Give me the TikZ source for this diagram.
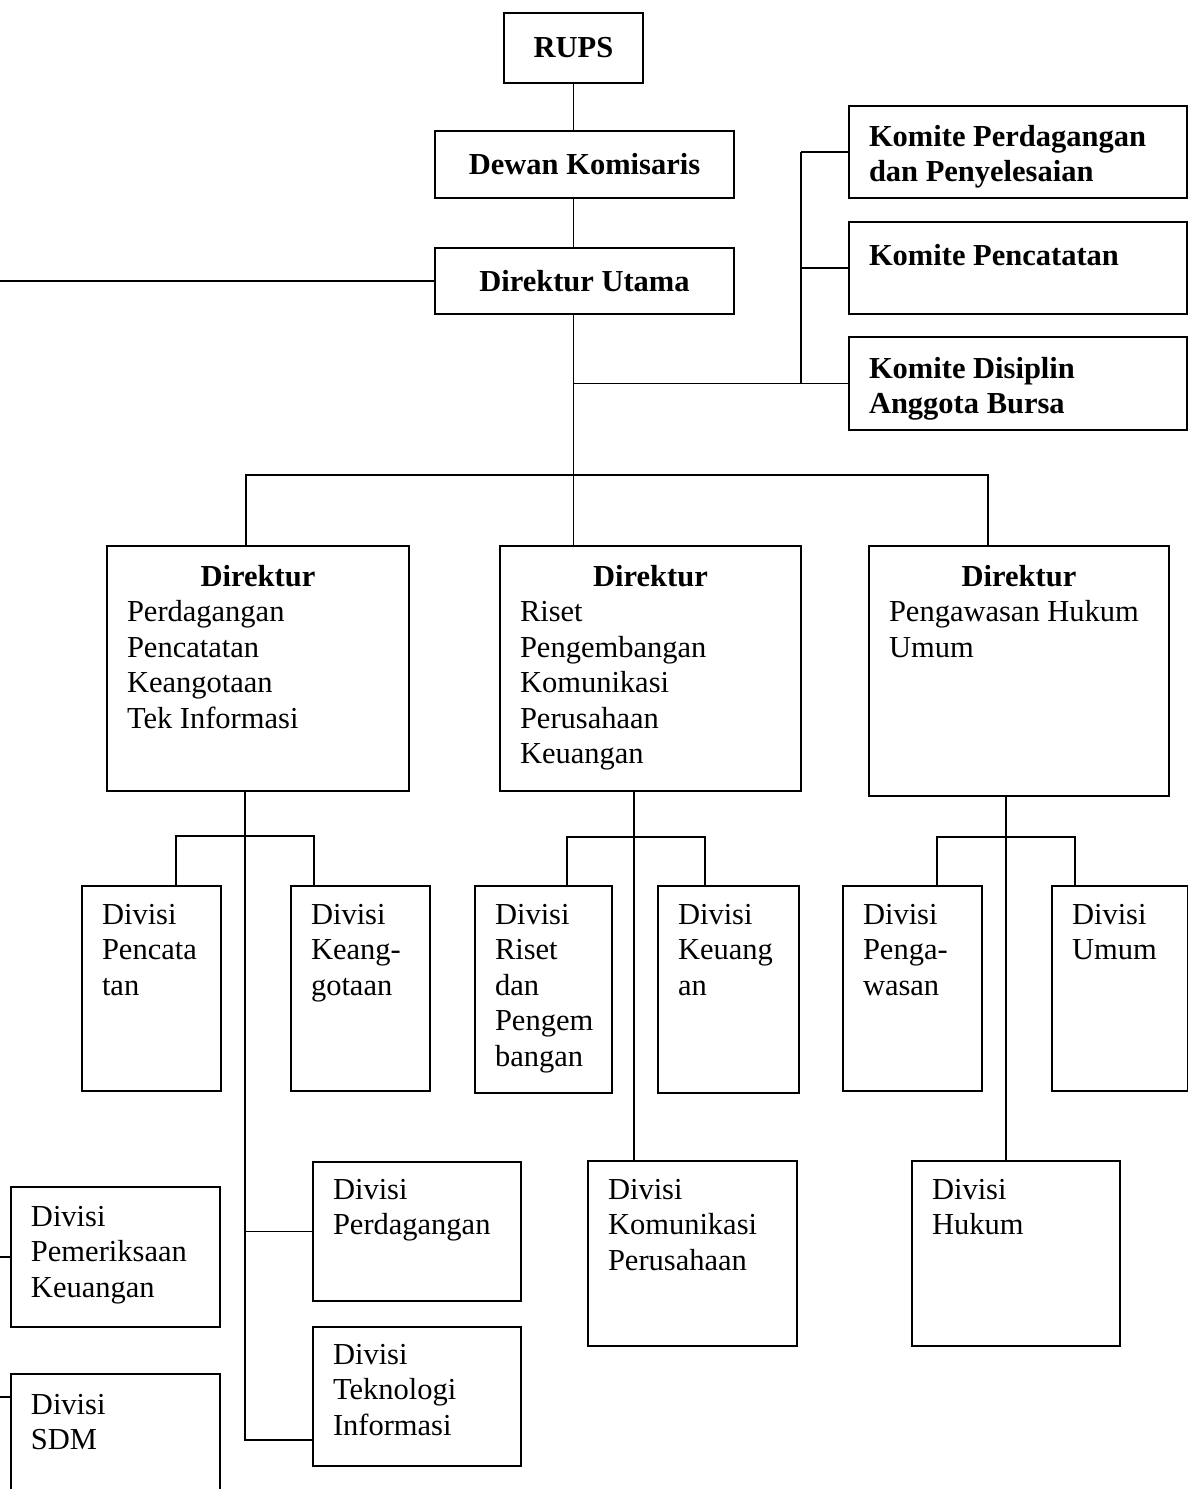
\documentclass[tikz,border=0pt]{standalone}
\usepackage{fontspec}
\setmainfont{Liberation Serif}
\begin{document}
\newcommand\bxt[4]{\parbox[c][#2pt][t]{#1pt}{\hyphenpenalty=10000\exhyphenpenalty=10000\leftskip=20pt\rightskip=0pt plus 1fil\parindent=0pt\rule{0pt}{#3pt}#4}}
\newcommand\dirhead{\makebox[\dimexpr\linewidth-40pt][c]{\bfseries Direktur}}
\begin{tikzpicture}[x=1pt,y=-1pt,
  bx/.style={draw,line width=2pt,inner sep=0pt,anchor=north west,font=\fontsize{30.5}{35.5}\selectfont},
  bbx/.style={draw,line width=2pt,inner sep=0pt,anchor=north west,font=\fontsize{30.5}{35}\selectfont\bfseries},
  cbx/.style={draw,line width=2pt,inner sep=0pt,anchor=north west,font=\fontsize{30.5}{35}\selectfont\bfseries},
  ln/.style={line width=1.8pt}]
\useasboundingbox (0,0) rectangle (1188,1489);
\clip (0,0) rectangle (1188,1489);
% top
\node[cbx,minimum width=139pt,minimum height=70pt] (rups) at (503,12) {RUPS};
\node[cbx,minimum width=299pt,minimum height=67pt] (dk) at (434,130) {Dewan Komisaris};
\node[cbx,minimum width=299pt,minimum height=66pt] (du) at (434,247) {Direktur Utama};
% komite
\node[bbx] (kp) at (848,105) {\bxt{338}{92}{40}{Komite Perdagangan\\dan Penyelesaian}};
\node[bbx] (kc) at (848,221) {\bxt{338}{92}{43}{Komite Pencatatan}};
\node[bbx] (kd) at (848,336) {\bxt{338}{93}{41}{Komite Disiplin\\Anggota Bursa}};
% direktur
\node[bx] (d1) at (106,545) {\bxt{302}{245}{40}{\dirhead\\Perdagangan\\Pencatatan\\Keangotaan\\Tek Informasi}};
\node[bx] (d2) at (499,545) {\bxt{301}{245}{40}{\dirhead\\Riset\\Pengembangan\\Komunikasi\\Perusahaan\\Keuangan}};
\node[bx] (d3) at (868,545) {\bxt{300}{250}{40}{\dirhead\\Pengawasan Hukum\\Umum}};
% divisi row 1
\node[bx] (dv1a) at (81,885) {\bxt{139}{205}{38}{Divisi\\Pencata\\tan}};
\node[bx] (dv1b) at (290,885) {\bxt{139}{205}{38}{Divisi\\Keang-\\gotaan}};
\node[bx] (dv2a) at (474,885) {\bxt{137}{207}{38}{Divisi\\Riset\\dan\\Pengem\\bangan}};
\node[bx] (dv2b) at (657,885) {\bxt{141}{207}{38}{Divisi\\Keuang\\an}};
\node[bx] (dv3a) at (842,885) {\bxt{139}{205}{38}{Divisi\\Penga-\\wasan}};
\node[bx] (dv3b) at (1051,885) {\bxt{136}{205}{38}{Divisi\\Umum}};
% divisi row 2
\node[bx] (dv1c) at (312,1161) {\bxt{208}{139}{37}{Divisi\\Perdagangan}};
\node[bx] (dv1d) at (312,1326) {\bxt{208}{139}{37}{Divisi\\Teknologi\\Informasi}};
\node[bx] (dv2c) at (587,1160) {\bxt{209}{185}{38}{Divisi\\Komunikasi\\Perusahaan}};
\node[bx] (dv3c) at (911,1160) {\bxt{208}{185}{38}{Divisi\\Hukum}};
\node[bx] (dvpk) at (10,1186) {\bxt{209}{140}{39}{Divisi\\Pemeriksaan\\Keuangan}};
\node[bx] (dvsdm) at (10,1373) {\bxt{209}{125}{40}{Divisi\\SDM}};
% coordinates
\coordinate (L) at (0,0);
\coordinate (kb) at (801,0);
\coordinate (b1) at (246,475);
\coordinate (b3) at (988,475);
\coordinate (t1) at (245,836);
\coordinate (tt) at (245,1440);
\coordinate (p1) at (176,836);
\coordinate (p2) at (314,836);
\coordinate (t2) at (634,837);
\coordinate (q1) at (567,837);
\coordinate (q2) at (705,837);
\coordinate (t3) at (1006,837);
\coordinate (r1) at (937,837);
\coordinate (r2) at (1075,837);
\coordinate (e2) at (0,1397);
% connectors
\draw[ln] (rups.south) -- (rups.south |- dk.north);
\draw[ln] (rups.south |- dk.south) -- (rups.south |- du.north);
\draw[ln] (rups.south |- du.south) -- (rups.south |- d2.north);
\draw[ln] (du.west) -- (du.west -| L);
\draw[ln] (rups.south |- kd.west) -- (kd.west);
\draw[ln] (kb |- kp.west) -- (kb |- kd.west);
\draw[ln] (kb |- kp.west) -- (kp.west);
\draw[ln] (kb |- kc.west) -- (kc.west);
\draw[ln] (b1 |- d1.north) -- (b1) -- (b3) -- (b3 |- d3.north);
\draw[ln] (t1 |- d1.south) -- (tt) -- (tt -| dv1d.west);
\draw[ln] (t1 |- dv1c.west) -- (dv1c.west);
\draw[ln] (p1 |- dv1a.north) -- (p1) -- (p2) -- (p2 |- dv1b.north);
\draw[ln] (t2 |- d2.south) -- (t2 |- dv2c.north);
\draw[ln] (q1 |- dv2a.north) -- (q1) -- (q2) -- (q2 |- dv2b.north);
\draw[ln] (t3 |- d3.south) -- (t3 |- dv3c.north);
\draw[ln] (r1 |- dv3a.north) -- (r1) -- (r2) -- (r2 |- dv3b.north);
\draw[ln] (dvpk.west -| L) -- (dvpk.west);
\draw[ln] (e2) -- (e2 -| dvsdm.west);
\end{tikzpicture}
\end{document}
